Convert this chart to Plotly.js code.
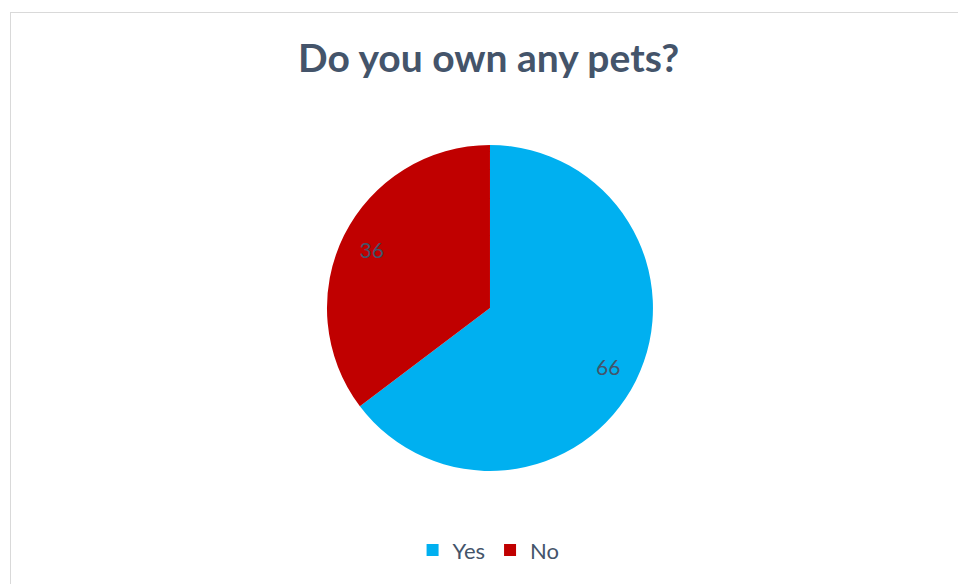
<!DOCTYPE html>
<html>
<head>
<meta charset="utf-8">
<script src="https://cdn.plot.ly/plotly-3.0.1.min.js"></script>
<style>
  html, body { margin: 0; padding: 0; background: #ffffff; overflow: hidden; }
  #frame { position: absolute; left: 10px; top: 12px; width: 960px; height: 590px; border: 1px solid #D9D9D9; box-sizing: border-box; }
  #chart { position: absolute; left: 0; top: 0; width: 958px; height: 584px; }
</style>
</head>
<body>
<div id="frame"></div>
<div id="chart"></div>
<script>
const chartTitle = "Do you own any pets?";
const categories = ["Yes", "No"];
const counts = [66, 36];
const sliceColors = ["#00B0F0", "#C00000"];

const pieDomain = { x: [0.3413, 0.6816], y: [0.1935, 0.7517] };

// Filled pie (no text)
const pieTrace = {
  type: "pie",
  labels: categories,
  values: counts,
  sort: false,
  direction: "clockwise",
  rotation: 0,
  marker: { colors: sliceColors, line: { width: 0 } },
  textinfo: "none",
  hoverinfo: "none",
  domain: pieDomain
};

// Transparent ring carrying the value labels near the outer edge
const labelTrace = {
  type: "pie",
  labels: categories,
  values: counts,
  sort: false,
  direction: "clockwise",
  rotation: 0,
  hole: 0.62,
  showlegend: false,
  marker: { colors: ["rgba(0,0,0,0)", "rgba(0,0,0,0)"], line: { width: 0 } },
  textinfo: "value",
  textposition: "inside",
  insidetextorientation: "horizontal",
  textfont: { family: "Lato, sans-serif", size: 21, color: "#44546A" },
  hoverinfo: "none",
  domain: pieDomain
};

const layout = {
  width: 958,
  height: 584,
  margin: { l: 0, r: 0, t: 0, b: 0 },
  paper_bgcolor: "rgba(0,0,0,0)",
  plot_bgcolor: "rgba(0,0,0,0)",
  title: {
    text: chartTitle,
    font: { family: "Lato, sans-serif", size: 39, color: "#44546A", weight: "bold" },
    x: 0.51, xanchor: "center",
    y: 0.90, yanchor: "middle", yref: "container"
  },
  showlegend: true,
  legend: {
    orientation: "h",
    x: 0.51, xanchor: "center",
    y: 0.058, yanchor: "middle",
    font: { family: "Lato, sans-serif", size: 22, color: "#44546A" },
    itemwidth: 30,
    traceorder: "normal"
  }
};

Plotly.newPlot("chart", [pieTrace, labelTrace], layout, { staticPlot: true });
</script>
</body>
</html>
